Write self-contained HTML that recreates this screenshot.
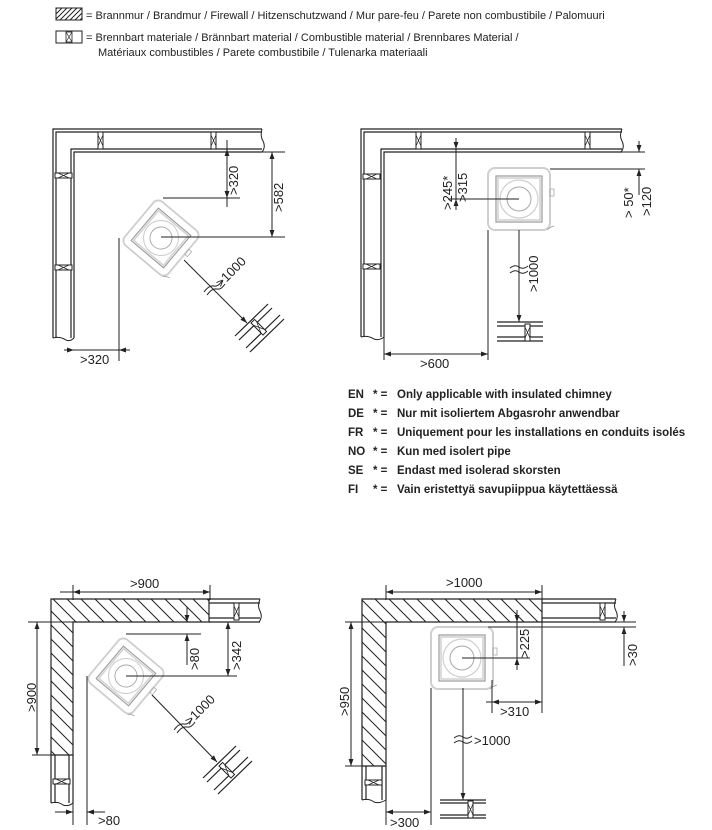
<!DOCTYPE html>
<html><head><meta charset="utf-8"><style>
html,body{margin:0;padding:0;background:#fff;}
svg{display:block;font-family:"Liberation Sans",sans-serif;}
.l{stroke:#222;stroke-width:1;fill:none}
.w{stroke:#222;stroke-width:1.2;fill:none}
.t{font-size:11px;fill:#222}
.d{font-size:13px;fill:#222}
.b{font-size:11.5px;font-weight:bold;fill:#222}
</style></head><body>
<svg width="712" height="830" viewBox="0 0 712 830" xmlns="http://www.w3.org/2000/svg">
<defs>
<marker id="a" viewBox="0 0 10 10" refX="10" refY="5" markerWidth="7" markerHeight="7" orient="auto-start-reverse"><path d="M0,1.5 L10,5 L0,8.5z" fill="#222"/></marker>
<pattern id="h" patternUnits="userSpaceOnUse" width="14" height="14"><path d="M0,0 L14,14 M-2,12 L2,16 M12,-2 L16,2" stroke="#222" stroke-width="1"/></pattern>
<pattern id="h2" patternUnits="userSpaceOnUse" width="5" height="5"><path d="M0,5 L5,0 M-1,1 L1,-1 M4,6 L6,4" stroke="#222" stroke-width="1"/></pattern>
<g id="stove">
<rect x="-31" y="-31" width="62" height="62" rx="7" fill="#fff" stroke="#cfcfcf" stroke-width="2"/>
<rect x="-23" y="-23" width="46" height="46" fill="none" stroke="#9a9a9a" stroke-width="1.2"/>
<rect x="-21" y="-21" width="42" height="42" fill="none" stroke="#d0d0d0" stroke-width="1.5"/>
<circle r="19" fill="none" stroke="#cfcfcf" stroke-width="1.2"/>
<circle r="12" fill="none" stroke="#a8a8a8" stroke-width="1"/>
<rect x="31" y="-10" width="4" height="7" fill="none" stroke="#aaa" stroke-width="0.8"/>
<path d="M28,31 Q31,28 35,27" fill="none" stroke="#999" stroke-width="0.8"/>
</g>
<g id="studV"><rect x="0" y="0" width="5" height="17" fill="#fff" stroke="#222" stroke-width="1"/><path d="M0,3 L5,14 M5,3 L0,14" stroke="#222" stroke-width="0.7"/></g>
<g id="studH"><rect x="0" y="0" width="17" height="5" fill="#fff" stroke="#222" stroke-width="1"/><path d="M3,0 L14,5 M3,5 L14,0" stroke="#222" stroke-width="0.7"/></g>
</defs>

<!-- Legend -->
<rect x="56" y="8" width="26" height="12" fill="url(#h2)" stroke="#222" stroke-width="1"/>
<rect x="56" y="31" width="26" height="12" fill="#fff" stroke="#222" stroke-width="1"/>
<rect x="66" y="32" width="6" height="10" fill="none" stroke="#222" stroke-width="0.8"/><path d="M66,32 L72,42 M72,32 L66,42" stroke="#222" stroke-width="0.7"/>
<text class="t" x="86" y="19">= Brannmur / Brandmur / Firewall / Hitzenschutzwand / Mur pare-feu / Parete non combustibile / Palomuuri</text>
<text class="t" x="86" y="41">= Brennbart materiale / Brännbart material /  Combustible material / Brennbares Material /</text>
<text class="t" x="98" y="56">Matériaux combustibles / Parete combustibile / Tulenarka materiaali</text>

<!-- TOP LEFT -->
<path class="w" d="M262,129 H53 V338 M262,132 H56 V338 M262,149 H71 V338 M262,152 H74 V338"/>
<path class="l" d="M262,129 Q260,136 263,141 Q266,147 262,152 M53,338 Q60,336 66,340 Q70,342 74,338"/>
<use href="#studV" x="98" y="132"/><use href="#studV" x="211" y="132"/>
<use href="#studH" x="55" y="173"/><use href="#studH" x="55" y="265"/>
<use href="#stove" transform="translate(161,238) rotate(40) scale(0.92)"/>
<path class="l" d="M163,198 H240 M161,237 H285 M262,152 H285 M119,238 V361"/>
<path class="l" d="M227,160 V149" marker-end="url(#a)"/><path class="l" d="M227,187 V198" marker-end="url(#a)"/>
<path class="l" d="M227,140 V207"/>
<path class="l" d="M272,152 V237" marker-start="url(#a)" marker-end="url(#a)"/>
<text class="d" transform="translate(238,195) rotate(-90)">&gt;320</text>
<text class="d" transform="translate(283,212) rotate(-90)">&gt;582</text>
<path class="l" d="M64,350 H74" marker-end="url(#a)"/><path class="l" d="M130,350 H119" marker-end="url(#a)"/><path class="l" d="M74,350 H119"/>
<text class="d" x="80" y="364">&gt;320</text>
<path class="l" d="M184,260 L247,323" marker-end="url(#a)"/>
<path class="l" d="M204,292 Q209,285 214,286 Q218,287 222,281 M207,295 Q212,288 217,289 Q221,290 225,284"/>
<text class="d" transform="translate(221,288) rotate(-45)">&gt;1000</text>
<path class="w" d="M235,336 L268,304 M239,340 L272,308 M246,348 L280,315 M250,352 L284,319"/>
<use href="#studV" transform="translate(251,323) rotate(-45)"/>

<!-- TOP RIGHT -->
<path class="w" d="M622,129 H361 V337 M622,132 H364 V337 M622,149 H381 V337 M622,152 H384 V337"/>
<path class="l" d="M622,129 Q619,136 622,141 Q625,147 621,152 M361,337 Q368,335 374,339 Q379,341 384,337"/>
<use href="#studV" x="416" y="132"/><use href="#studV" x="585" y="132"/>
<use href="#studH" x="363" y="174"/><use href="#studH" x="363" y="264"/>
<use href="#stove" transform="translate(519,199)"/>
<path class="l" d="M622,152 H645 M550,169 H645 M448,199 H519"/>
<path class="l" d="M456,138 V149" marker-end="url(#a)"/><path class="l" d="M456,210 V199" marker-end="url(#a)"/><path class="l" d="M456,149 V199"/>
<text class="d" transform="translate(452,210) rotate(-90)">&gt;245*</text>
<text class="d" transform="translate(467,202) rotate(-90)">&gt;315</text>
<path class="l" d="M639,141 V152" marker-end="url(#a)"/><path class="l" d="M639,195 V169" marker-end="url(#a)"/>
<text class="d" transform="translate(633,218) rotate(-90)">&gt; 50*</text>
<text class="d" transform="translate(651,216) rotate(-90)">&gt;120</text>
<path class="l" d="M519,230 V322" marker-end="url(#a)"/>
<path class="l" d="M510,268 Q515,264 519,267 Q523,270 528,266 M510,273 Q515,269 519,272 Q523,275 528,271"/>
<text class="d" transform="translate(538,292) rotate(-90)">&gt;1000</text>
<path class="w" d="M497,322 H543 M497,326 H543 M497,337 H543 M497,341 H543"/>
<use href="#studV" x="525" y="324"/>
<path class="l" d="M384,337 V360 M488,230 V360"/>
<path class="l" d="M384,354 H488" marker-start="url(#a)" marker-end="url(#a)"/>
<text class="d" x="420" y="368">&gt;600</text>

<!-- Notes -->
<g class="b">
<text x="348" y="398">EN</text><text x="373" y="398">* =</text><text x="397" y="398">Only applicable with insulated chimney</text>
<text x="348" y="417">DE</text><text x="373" y="417">* =</text><text x="397" y="417">Nur mit isoliertem Abgasrohr anwendbar</text>
<text x="348" y="436">FR</text><text x="373" y="436">* =</text><text x="397" y="436">Uniquement pour les installations en conduits isolés</text>
<text x="348" y="455">NO</text><text x="373" y="455">* =</text><text x="397" y="455">Kun med isolert pipe</text>
<text x="348" y="474">SE</text><text x="373" y="474">* =</text><text x="397" y="474">Endast med isolerad skorsten</text>
<text x="348" y="493">FI</text><text x="373" y="493">* =</text><text x="397" y="493">Vain eristettyä savupiippua käytettäessä</text>
</g>

<!-- BOTTOM LEFT -->
<path d="M51,599 H209 V622 H73 V755 H51 Z" fill="url(#h)" stroke="#222" stroke-width="1.2"/>
<path class="w" d="M209,599 H260 M209,603 H260 M209,618 H260 M209,622 H260 M51,755 V803 M55,755 V803 M69,755 V803 M73,755 V803"/>
<path class="l" d="M260,599 Q257,606 260,611 Q263,617 259,622 M51,803 Q58,801 63,805 Q68,807 73,803"/>
<use href="#studV" x="234" y="603"/><use href="#studH" x="53" y="779"/>
<use href="#stove" transform="translate(126,676) rotate(40) scale(0.92)"/>
<path class="l" d="M73,585 V600 M210,585 V600 M60,592 H73"/>
<path class="l" d="M73,592 H210" marker-start="url(#a)" marker-end="url(#a)"/>
<text class="d" x="130" y="588">&gt;900</text>
<path class="l" d="M28,622 H73 M32,755 H55"/>
<path class="l" d="M37,622 V755" marker-start="url(#a)" marker-end="url(#a)"/>
<text class="d" transform="translate(36,712) rotate(-90)">&gt;900</text>
<path class="l" d="M126,634 H201 M126,676 H237"/>
<path class="l" d="M187,607 V622" marker-end="url(#a)"/><path class="l" d="M187,665 V634" marker-end="url(#a)"/>
<text class="d" transform="translate(199,670) rotate(-90)">&gt;80</text>
<path class="l" d="M228,622 V676" marker-start="url(#a)" marker-end="url(#a)"/>
<text class="d" transform="translate(241,670) rotate(-90)">&gt;342</text>
<path class="l" d="M152,695 L217,762" marker-end="url(#a)"/>
<path class="l" d="M174,730 Q179,723 184,724 Q188,725 192,719 M177,733 Q182,726 187,727 Q191,728 195,722"/>
<text class="d" transform="translate(190,726) rotate(-45)">&gt;1000</text>
<path class="w" d="M203,778 L236,746 M207,782 L240,750 M214,790 L248,757 M218,794 L252,761"/>
<use href="#studV" transform="translate(219,766) rotate(-45)"/>
<path class="l" d="M87,676 V825 M73,803 V825"/>
<path class="l" d="M55,812 H73" marker-end="url(#a)"/><path class="l" d="M105,812 H87" marker-end="url(#a)"/>
<text class="d" x="98" y="825">&gt;80</text>

<!-- BOTTOM RIGHT -->
<path d="M362,599 H542 V622 H386 V766 H362 Z" fill="url(#h)" stroke="#222" stroke-width="1.2"/>
<path class="w" d="M542,599 H616 M542,603 H616 M542,618 H616 M542,622 H616 M362,766 V800 M366,766 V800 M382,766 V800 M386,766 V800"/>
<path class="l" d="M616,599 Q613,606 616,611 Q619,617 615,622 M362,800 Q369,798 374,802 Q379,804 386,800"/>
<use href="#studV" x="600" y="603"/><use href="#studH" x="365" y="780"/>
<use href="#stove" transform="translate(462,658)"/>
<path class="l" d="M386,585 V600 M542,585 V713"/>
<path class="l" d="M386,592 H542" marker-start="url(#a)" marker-end="url(#a)"/>
<text class="d" x="446" y="587">&gt;1000</text>
<path class="l" d="M345,622 H636 M488,627 H636 M345,766 H386"/>
<path class="l" d="M351,622 V766" marker-start="url(#a)" marker-end="url(#a)"/>
<text class="d" transform="translate(349,716) rotate(-90)">&gt;950</text>
<path class="l" d="M462,658 H530"/>
<path class="l" d="M517,610 V622" marker-end="url(#a)"/><path class="l" d="M517,670 V658" marker-end="url(#a)"/><path class="l" d="M517,622 V658"/>
<text class="d" transform="translate(529,658) rotate(-90)">&gt;225</text>
<path class="l" d="M624,611 V622" marker-end="url(#a)"/><path class="l" d="M624,666 V627" marker-end="url(#a)"/>
<text class="d" transform="translate(637,666) rotate(-90)">&gt;30</text>
<path class="l" d="M492,680 V713"/>
<path class="l" d="M486,702 H492"/><path class="l" d="M492,702 H542" marker-start="url(#a)" marker-end="url(#a)"/>
<text class="d" x="500" y="716">&gt;310</text>
<path class="l" d="M463,688 V800" marker-end="url(#a)"/>
<path class="l" d="M454,738 Q459,734 463,737 Q467,740 472,736 M454,743 Q459,739 463,742 Q467,745 472,741"/>
<text class="d" x="474" y="745">&gt;1000</text>
<path class="w" d="M440,800 H486 M440,803 H486 M440,815 H486 M440,818 H486"/>
<use href="#studV" x="468" y="801"/>
<path class="l" d="M431,688 V825 M386,800 V825"/>
<path class="l" d="M386,812 H431" marker-start="url(#a)" marker-end="url(#a)"/>
<text class="d" x="390" y="827">&gt;300</text>
</svg>
</body></html>
